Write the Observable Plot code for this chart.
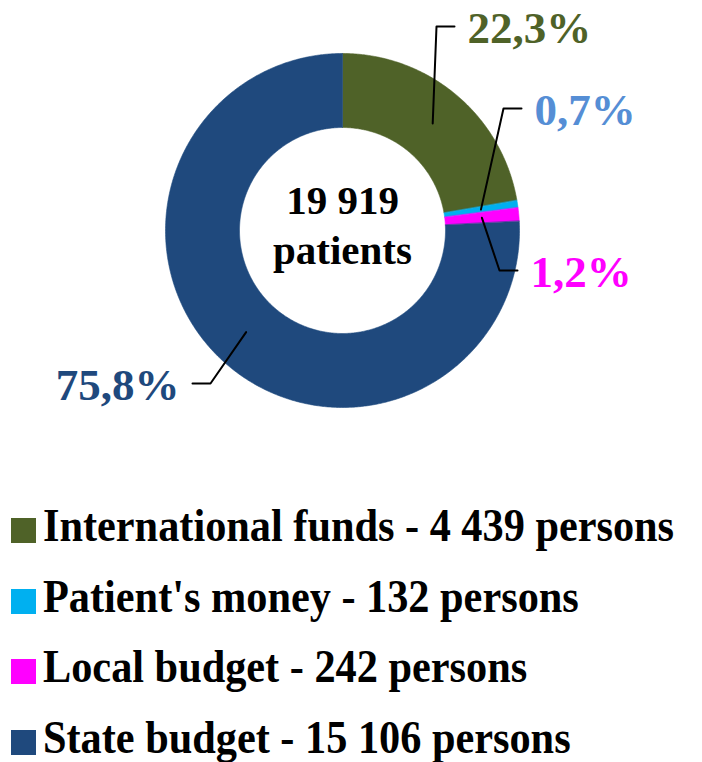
<!DOCTYPE html>
<html>
<head>
<meta charset="utf-8">
<script src="https://cdn.jsdelivr.net/npm/d3@7"></script>
<script src="https://cdn.jsdelivr.net/npm/@observablehq/plot@0.6"></script>
<style>
  body { margin: 0; background: #fff; }
  #chart svg { display: block; }
  .legend { font-family: "Liberation Serif", Tinos, "Times New Roman", serif; font-weight: bold; font-size: 47px; color: #000; padding-left: 11px; margin-top: -1px; }
  .row { height: 70.7px; line-height: 70.7px; white-space: nowrap; }
  .sw { display: inline-block; width: 25px; height: 25px; margin-right: 7px; vertical-align: -2px; }
  .lt { display: inline-block; transform: scaleX(0.9); transform-origin: 0 50%; }
</style>
</head>
<body>
<div id="chart"></div>
<div id="legend" class="legend"></div>
<script>
// ---- data ----
const categories = ["International funds", "Patient's money", "Local budget", "State budget"];
const persons = [4439, 132, 242, 15106];
const sliceColors = ["#4F6228", "#00B0F0", "#FF00FF", "#1F497D"];
const labelColors = ["#4F6228", "#558ED5", "#FF00FF", "#1F497D"];
const centerUnit = "patients";
const personUnit = "persons";

// ---- layout (chart units = px, origin at donut centre, y up) ----
const outerR = 177, innerR = 103, leaderR = 140;
const leaderElbows = [[94, 204], [161, 122], [157, -40], [-132, -153]];
const leaderSides = [1, 1, 1, -1];
const leaderLen = 18, labelGap = 13;

const fmt = d3.formatLocale({decimal: ",", thousands: " ", grouping: [3], currency: ["", ""]});
const fmtInt = fmt.format(",d");
const total = d3.sum(persons);
const pctText = persons.map(v => (v / total * 100).toFixed(1).replace(".", ",") + "%");

// slice angles (clockwise from top)
const slices = [];
let acc = 0;
categories.forEach((c, i) => {
  const a0 = acc / total * 2 * Math.PI;
  acc += persons[i];
  const a1 = acc / total * 2 * Math.PI;
  slices.push({name: c, a0, a1, i});
});

const pt = (r, a) => ({x: r * Math.sin(a), y: r * Math.cos(a)});

const ringPts = slices.flatMap(s => {
  const n = Math.max(2, Math.ceil((s.a1 - s.a0) / (Math.PI / 360)));
  const pts = [];
  for (let k = 0; k <= n; k++) pts.push({name: s.name, ...pt(outerR, s.a0 + (s.a1 - s.a0) * k / n)});
  for (let k = n; k >= 0; k--) pts.push({name: s.name, ...pt(innerR, s.a0 + (s.a1 - s.a0) * k / n)});
  return pts;
});

const leaderPts = slices.flatMap(s => {
  const m = (s.a0 + s.a1) / 2;
  const [ex, ey] = leaderElbows[s.i];
  const side = leaderSides[s.i];
  return [
    {name: s.name, ...pt(leaderR, m)},
    {name: s.name, x: ex, y: ey},
    {name: s.name, x: ex + side * leaderLen, y: ey}
  ];
});

const labels = slices.map(s => {
  const [ex, ey] = leaderElbows[s.i];
  const side = leaderSides[s.i];
  return {text: pctText[s.i], x: ex + side * (leaderLen + labelGap), y: ey - 2, side, color: labelColors[s.i]};
});

const serif = '"Liberation Serif", Tinos, "Times New Roman", serif';

const chart = Plot.plot({
  width: 702,
  height: 491,
  margin: 0,
  x: {domain: [-342, 360], axis: null},
  y: {domain: [-261, 230], axis: null},
  color: {domain: categories, range: sliceColors},
  style: {background: "#fff", fontFamily: serif},
  marks: [
    Plot.line(ringPts, {x: "x", y: "y", z: "name", fill: "name", stroke: "name", strokeWidth: 0.6, curve: "linear-closed"}),
    Plot.line(leaderPts, {x: "x", y: "y", z: "name", stroke: "#000", strokeWidth: 2}),
    ...labels.map(l => Plot.text([l], {
      x: "x", y: "y", text: "text", fill: l.color,
      textAnchor: l.side > 0 ? "start" : "end",
      fontSize: 45, fontWeight: "bold", fontFamily: serif
    })),
    Plot.text([{x: 0, y: 8, text: fmtInt(total) + "\n" + centerUnit}], {
      x: "x", y: "y", text: "text", fill: "#000", lineHeight: 1.22,
      fontSize: 41, fontWeight: "bold", fontFamily: serif
    })
  ]
});
document.getElementById("chart").appendChild(chart);

const legend = document.getElementById("legend");
categories.forEach((c, i) => {
  const row = document.createElement("div");
  row.className = "row";
  const sw = document.createElement("span");
  sw.className = "sw";
  sw.style.background = sliceColors[i];
  row.appendChild(sw);
  const t = document.createElement("span");
  t.className = "lt";
  t.textContent = `${c} - ${fmtInt(persons[i])} ${personUnit}`;
  row.appendChild(t);
  legend.appendChild(row);
});
</script>
</body>
</html>
